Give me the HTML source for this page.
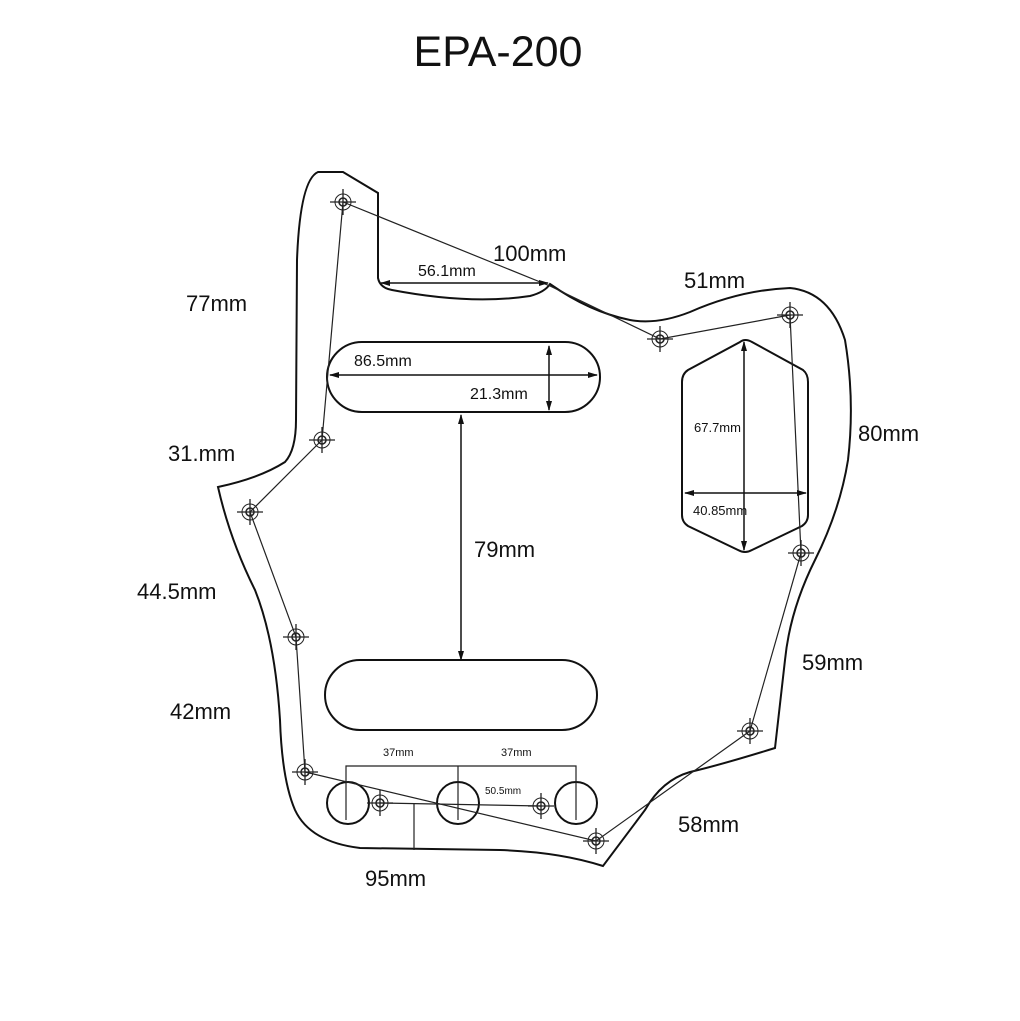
<!DOCTYPE html>
<html><head><style>body{margin:0;background:#fff}svg{display:block}text{font-family:"Liberation Sans",sans-serif;fill:#111}</style></head><body>
<svg width="1020" height="1021" viewBox="0 0 1020 1021">
<defs><marker id="a" markerWidth="10" markerHeight="8" refX="9" refY="4" orient="auto-start-reverse" markerUnits="userSpaceOnUse"><path d="M0,1 L10,4 L0,7z" fill="#111"/></marker>
<g id="h"><circle r="8" fill="none" stroke="#222" stroke-width="1"/><circle r="4" fill="none" stroke="#222" stroke-width="1.5"/><path d="M-13,0H13M0,-13V13" stroke="#222" stroke-width="1.3"/></g></defs>
<text x="498" y="66" font-size="43" text-anchor="middle">EPA-200</text>
<g fill="none" stroke="#111" stroke-width="2">
<path d="M318,172 L343,172 L378,193 L378,278 Q380,288 392,290 Q470,305 530,296 Q545,292 550,284 Q590,312 630,320 Q657,325 690,312 Q740,290 790,288 Q830,292 845,340 Q855,400 848,460 Q840,510 815,560 Q790,610 785,660 L775,748 Q720,765 690,772 Q662,780 645,810 L603,866 Q560,852 500,850 L360,848 Q310,842 295,810 Q282,780 280,720 Q275,640 255,590 Q230,540 218,487 Q260,478 285,462 Q296,450 296,420 L297,260 Q300,180 318,172 Z"/>
<rect x="327" y="342" width="273" height="70" rx="35"/>
<rect x="325" y="660" width="272" height="70" rx="35"/>
<path d="M740,342 Q745,338 752,342 L803,370 Q808,374 808,382 L808,515 Q808,522 802,526 L752,550 Q745,554 738,550 L688,526 Q682,522 682,515 L682,382 Q682,374 688,370 Z"/>
<circle cx="348" cy="803" r="21"/><circle cx="458" cy="803" r="21"/><circle cx="576" cy="803" r="21"/>
</g>
<g fill="none" stroke="#222" stroke-width="1.2">
<path d="M343,202 L550,286 L660,339 L790,315 L801,553 L750,731 L596,841 L305,772 L296,637 L250,512 L322,440 L343,202"/>
<path d="M380,803 L541,806"/>
<path d="M346,820V766H576V820M458,766V820M414,803V850"/>
</g>
<g stroke="#111" stroke-width="1.5">
<line x1="381" y1="283" x2="548" y2="283" marker-start="url(#a)" marker-end="url(#a)"/>
<line x1="330" y1="375" x2="597" y2="375" marker-start="url(#a)" marker-end="url(#a)"/>
<line x1="549" y1="346" x2="549" y2="410" marker-start="url(#a)" marker-end="url(#a)"/>
<line x1="461" y1="415" x2="461" y2="660" marker-start="url(#a)" marker-end="url(#a)"/>
<line x1="744" y1="342" x2="744" y2="550" marker-start="url(#a)" marker-end="url(#a)"/>
<line x1="685" y1="493" x2="806" y2="493" marker-start="url(#a)" marker-end="url(#a)"/>
</g>
<use href="#h" x="343" y="202"/><use href="#h" x="322" y="440"/><use href="#h" x="250" y="512"/><use href="#h" x="296" y="637"/><use href="#h" x="305" y="772"/><use href="#h" x="380" y="803"/><use href="#h" x="541" y="806"/><use href="#h" x="596" y="841"/><use href="#h" x="750" y="731"/><use href="#h" x="801" y="553"/><use href="#h" x="790" y="315"/><use href="#h" x="660" y="339"/>
<g font-size="22">
<text x="493" y="261">100mm</text><text x="684" y="288">51mm</text><text x="186" y="311">77mm</text><text x="858" y="441">80mm</text><text x="168" y="461">31.mm</text><text x="474" y="557">79mm</text><text x="137" y="599">44.5mm</text><text x="802" y="670">59mm</text><text x="170" y="719">42mm</text><text x="678" y="832">58mm</text><text x="365" y="886">95mm</text>
</g>
<g font-size="16"><text x="418" y="276">56.1mm</text><text x="354" y="366">86.5mm</text><text x="470" y="399">21.3mm</text></g>
<g font-size="13"><text x="694" y="432">67.7mm</text><text x="693" y="515">40.85mm</text></g>
<g font-size="11"><text x="383" y="756">37mm</text><text x="501" y="756">37mm</text><text x="485" y="794" font-size="10">50.5mm</text></g>
</svg>
</body></html>
